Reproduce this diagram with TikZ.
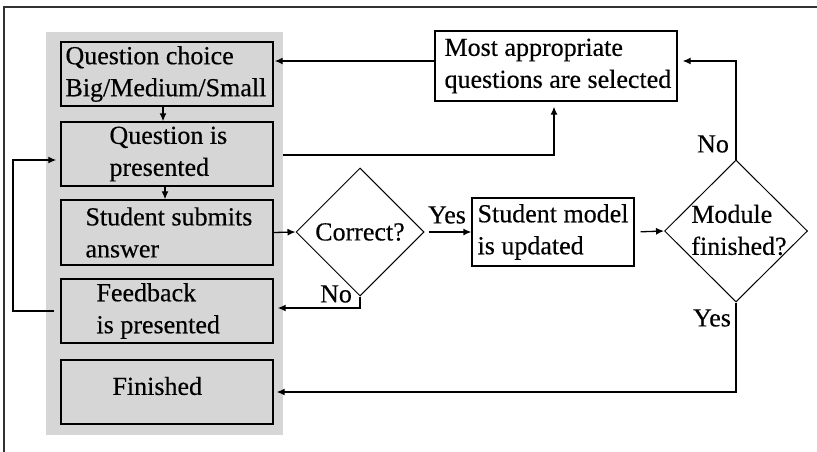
\documentclass[tikz,border=0pt]{standalone}
\usepackage{fontspec}
\setmainfont{Liberation Serif}[FakeBold=0.4]
\usetikzlibrary{shapes.geometric,arrows.meta,calc}
\definecolor{panelgray}{RGB}{214,214,214}
\definecolor{framecol}{RGB}{50,50,50}
\tikzset{
  boxnode/.style={draw=black,line width=1.4pt,fill=panelgray,minimum width=212pt,inner sep=0pt},
  wbox/.style={draw=black,line width=1.3pt,fill=white,inner sep=0pt},
  dia/.style={diamond,draw=black,line width=1pt,inner sep=0pt},
  txt/.style={inner sep=0pt,align=left,font=\fontsize{26}{32}\selectfont},
  lbl/.style={inner sep=0pt,font=\fontsize{26}{32}\selectfont},
  arr/.style={line width=1.3pt,-{Latex[length=8pt,width=7pt]}},
  ln/.style={line width=1.3pt}
}
\begin{document}
\begin{tikzpicture}[x=1pt,y=-1pt]
\useasboundingbox (0,0) rectangle (817,452);
% frame (only top and left edges visible)
\draw[framecol,line width=1.5pt] (4,470) -- (4,7) -- (830,7);
% gray panel
\node[fill=panelgray,minimum width=237pt,minimum height=403pt,inner sep=0pt] (panel) at (164.5,233.5) {};
% left column boxes
\node[boxnode,minimum height=64pt] (q1) at (167,74) {};
\node[txt,anchor=west] (q1t) at ([xshift=5pt]q1.west) {Question choice\\Big/Medium/Small};
\node[boxnode,minimum height=64pt] (q2) at (167,154) {};
\node[txt,anchor=west] (q2t) at ([xshift=49pt]q2.west) {Question is\\presented};
\node[boxnode,minimum height=65pt] (q3) at (167,232.5) {};
\node[txt,anchor=west] (q3t) at ([xshift=25pt]q3.west) {Student submits\\answer};
\node[boxnode,minimum height=64pt] (fb) at (167,311) {};
\node[txt,anchor=west] (fbt) at ([xshift=36pt]fb.west) {Feedback\\is presented};
\node[boxnode,minimum height=64pt] (fin) at (167,392) {};
\node[txt,anchor=west] (fint) at ([xshift=52pt,yshift=6pt]fin.west) {Finished};
% right side
\node[wbox,minimum width=242pt,minimum height=70pt] (most) at (556,66) {};
\node[txt,anchor=west] (mostt) at ([xshift=10pt]most.west) {Most appropriate\\questions are selected};
\node[dia,minimum width=128pt,minimum height=128pt] (cor) at (360,232) {};
\node[lbl] (cort) at (cor) {Correct?};
\node[wbox,minimum width=162pt,minimum height=68pt] (sm) at (553,232) {};
\node[txt,anchor=west] (smt) at ([xshift=6pt]sm.west) {Student model\\is updated};
\node[dia,minimum width=143pt,minimum height=142pt] (mod) at (736,231) {};
\node[txt] (modt) at (739,230) {Module\\finished?};
% labels
\node[lbl] (yes1) at (447,215) {Yes};
\node[lbl] (no1) at (336,294) {No};
\node[lbl] (no2) at (713,144) {No};
\node[lbl] (yes2) at (712,318) {Yes};
% connectors
\draw[arr,shorten >=1pt] ([yshift=5pt]most.west) -- ([yshift=5pt]most.west -| q1.east);
\draw[arr] ([xshift=-4pt]q1.south) -- ([xshift=-4pt]q2.north);
\draw[arr] ([xshift=-2pt]q2.south) -- ([xshift=-2pt]q3.north);
\draw[arr,shorten >=5pt] ([yshift=-1pt]q2.east -| panel.east) -| ([xshift=-2pt]most.south);
\draw[arr] (q3.east) -- (cor.west);
\draw[arr,shorten <=4pt] (cor.east) -- (sm.west);
\draw[arr,shorten >=4pt] (cor.south) |- ([yshift=3pt]fb.east);
\draw[arr,shorten <=6pt] (sm.east) -- (mod.west);
\draw[arr,shorten >=5pt] (mod.north) |- ([yshift=5pt]most.east);
\draw[arr,shorten >=3pt] (mod.south) |- (fin.east);
\coordinate (loopx) at (13,0);
\draw[arr,shorten >=4pt] ([xshift=-6pt]fb.west) -- (fb.west -| loopx) |- ([yshift=-6pt]q2.west);
\end{tikzpicture}
\end{document}
